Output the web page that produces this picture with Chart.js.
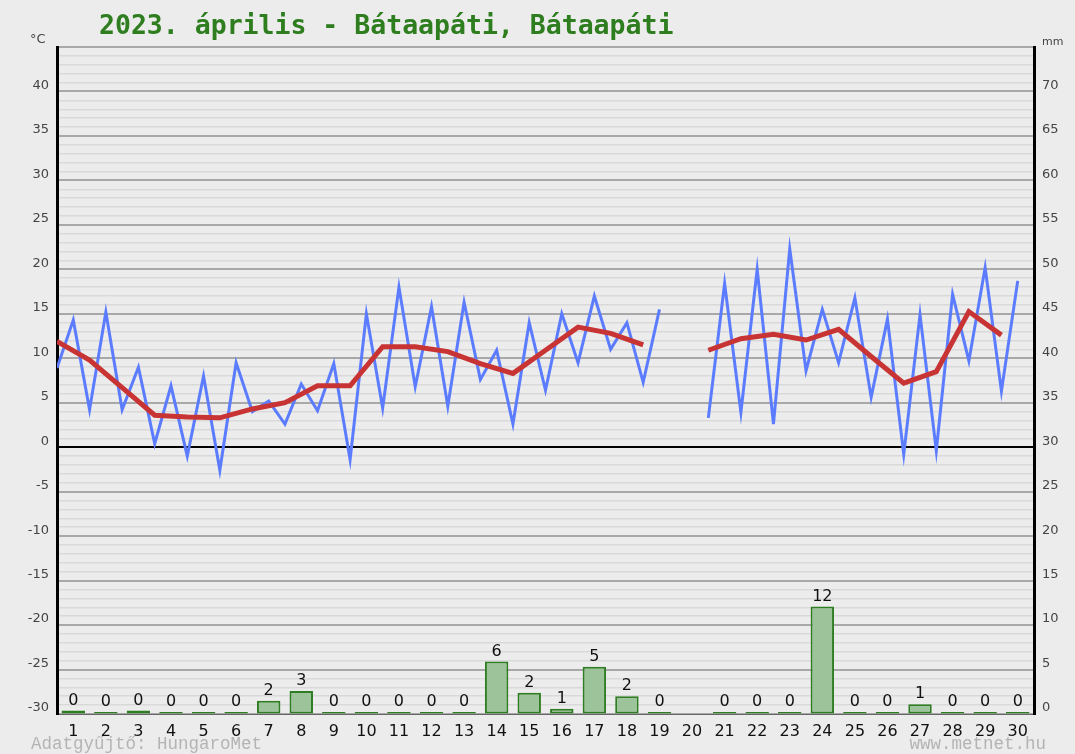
<!DOCTYPE html>
<html>
<head>
<meta charset="utf-8">
<script src="https://cdn.jsdelivr.net/npm/chart.js@4/dist/chart.umd.min.js"></script>
<style>
  body { margin: 0; background: #ececec; }
  #wrap { width: 1075px; height: 754px; position: relative; }
</style>
</head>
<body>
<div id="wrap"><canvas id="chart"></canvas></div>
<script>
// 2023 april, Bátaapáti
const dayLabels = ['1', '2', '3', '4', '5', '6', '7', '8', '9', '10', '11', '12', '13', '14', '15',
    '16', '17', '18', '19', '20', '21', '22', '23', '24', '25', '26', '27', '28', '29', '30'];

// temperature at the start of each day and around midday (°C)
const dayStartTemp = [8.9, 4.2, 4.2, 0.4, -1.0, -2.6, 4.0, 2.6, 4.1, -1.4, 4.4, 6.8, 4.6, 7.6, 2.6,
    6.4, 9.5, 11.0, 7.3, null, 3.3, 3.9, 2.6, 8.6, 9.5, 5.6, -0.8, -0.4, 9.7, 6.3];
const middayTemp = [14.3, 15.2, 9.0, 6.9, 8.0, 9.5, 5.2, 7.1, 9.4, 15.0, 18.0, 15.8, 16.3, 10.9, 14.0,
    15.0, 17.0, 14.0, 15.5, null, 18.4, 20.0, 22.3, 15.5, 16.8, 14.4, 14.9, 17.2, 20.2, 18.7];

// daily mean (°C)
const meanTemp = [11.9, 9.8, 6.7, 3.6, 3.4, 3.3, 4.3, 5.0, 6.9, 6.9, 11.3, 11.3, 10.75, 9.4, 8.3,
    10.9, 13.5, 12.8, 11.5, null, 10.9, 12.2, 12.7, 12.05, 13.25, 10.2, 7.2, 8.5, 15.25, 12.6];

// precipitation (mm)
const precip = [0.4, 0, 0.4, 0, 0, 0, 1.5, 2.6, 0, 0, 0, 0, 0.1, 5.9, 2.4,
    0.6, 5.3, 2.0, 0, null, 0, 0, 0, 12.1, 0, 0, 1.1, 0, 0, 0];

const tempPoints = [];
dayStartTemp.forEach((v, i) => {
    tempPoints.push({ x: i + 0.5, y: v });
    tempPoints.push({ x: i + 1, y: middayTemp[i] });
});
const meanPoints = meanTemp.map((v, i) => ({ x: i + 0.5, y: v }));

const barLabels = {
    id: 'barLabels',
    afterDatasetsDraw(chart) {
        const ctx = chart.ctx;
        const meta = chart.getDatasetMeta(2);
        ctx.save();
        ctx.font = '16px "DejaVu Sans"';
        ctx.fillStyle = '#111';
        ctx.textAlign = 'center';
        ctx.textBaseline = 'bottom';
        meta.data.forEach((bar, i) => {
            if (precip[i] === null) return;
            ctx.fillText(String(Math.round(precip[i])), bar.x, bar.y - 2);
        });
        ctx.restore();
    }
};

const extraText = {
    id: 'extraText',
    afterDraw(chart) {
        const ctx = chart.ctx;
        ctx.save();
        ctx.textBaseline = 'middle';
        ctx.fillStyle = '#2e7d1e';
        ctx.font = 'bold 26.5px "DejaVu Sans Mono"';
        ctx.fillText('2023. április - Bátaapáti, Bátaapáti', 99, 27);
        ctx.fillStyle = '#444';
        ctx.font = '13px "DejaVu Sans"';
        ctx.fillText('°C', 30, 40);
        ctx.font = '11px "DejaVu Sans"';
        ctx.fillText('mm', 1042, 42);
        ctx.fillStyle = '#b4b4b4';
        ctx.font = '17.5px "Liberation Mono"';
        ctx.fillText('Adatgyűjtő: HungaroMet', 31, 744);
        ctx.textAlign = 'right';
        ctx.fillText('www.metnet.hu', 1046, 744);
        ctx.restore();
    }
};

const gridColor = (ctx) => {
    const v = ctx.tick.value;
    if (v === 0) return '#000';
    if (v % 5 === 0) return '#a8a8a8';
    return '#d9d9d9';
};
const gridWidth = (ctx) => {
    const v = ctx.tick.value;
    if (v === 0) return 2;
    if (v % 5 === 0) return 2;
    return 1.5;
};

new Chart(document.getElementById('chart'), {
    data: {
        labels: dayLabels,
        datasets: [
            {
                type: 'line',
                data: meanPoints,
                xAxisID: 'xt',
                yAxisID: 'y',
                borderColor: '#c83434',
                borderWidth: 5,
                pointRadius: 0,
                tension: 0,
                spanGaps: false,
                order: 0
            },
            {
                type: 'line',
                data: tempPoints,
                xAxisID: 'xt',
                yAxisID: 'y',
                borderColor: '#5b7cff',
                borderWidth: 3,
                pointRadius: 0,
                tension: 0,
                spanGaps: false,
                order: 1
            },
            {
                type: 'bar',
                data: precip,
                xAxisID: 'x',
                yAxisID: 'y1',
                backgroundColor: '#9cc39a',
                borderColor: '#2f7d22',
                borderWidth: 2,
                borderSkipped: false,
                minBarLength: 2,
                grouped: false,
                barPercentage: 0.72,
                categoryPercentage: 1,
                order: 2
            }
        ]
    },
    options: {
        responsive: true,
        maintainAspectRatio: false,
        animation: false,
        layout: { padding: { top: 47, left: 0, right: 0, bottom: 0 } },
        plugins: {
            legend: { display: false },
            tooltip: { enabled: false }
        },
        scales: {
            x: {
                type: 'category',
                offset: true,
                grid: { display: false },
                border: { color: '#666', width: 1 },
                ticks: {
                    color: '#111',
                    font: { family: 'DejaVu Sans', size: 16 },
                    padding: 0,
                    maxRotation: 0,
                    autoSkip: false
                },
                afterFit: (s) => { s.height = 40; }
            },
            xt: {
                type: 'linear',
                display: false,
                min: 0.5,
                max: 30.5
            },
            y: {
                position: 'left',
                min: -30,
                max: 45,
                grid: { color: gridColor, lineWidth: gridWidth, drawTicks: false },
                border: { color: '#000', width: 3 },
                ticks: {
                    stepSize: 1,
                    autoSkip: false,
                    padding: 8,
                    labelOffset: -6,
                    color: '#444',
                    font: { family: 'DejaVu Sans', size: 13 },
                    callback: (v) => (v % 5 === 0 && v !== 45) ? v : ''
                },
                afterFit: (s) => { s.width = 57; }
            },
            y1: {
                position: 'right',
                min: 0,
                max: 75,
                grid: { drawOnChartArea: false, drawTicks: false },
                border: { color: '#000', width: 3 },
                ticks: {
                    stepSize: 1,
                    autoSkip: false,
                    padding: 8,
                    labelOffset: -6,
                    color: '#444',
                    font: { family: 'DejaVu Sans', size: 13 },
                    callback: (v) => (v % 5 === 0 && v !== 75) ? v : ''
                },
                afterFit: (s) => { s.width = 41; }
            }
        }
    },
    plugins: [barLabels, extraText]
});
</script>
</body>
</html>
